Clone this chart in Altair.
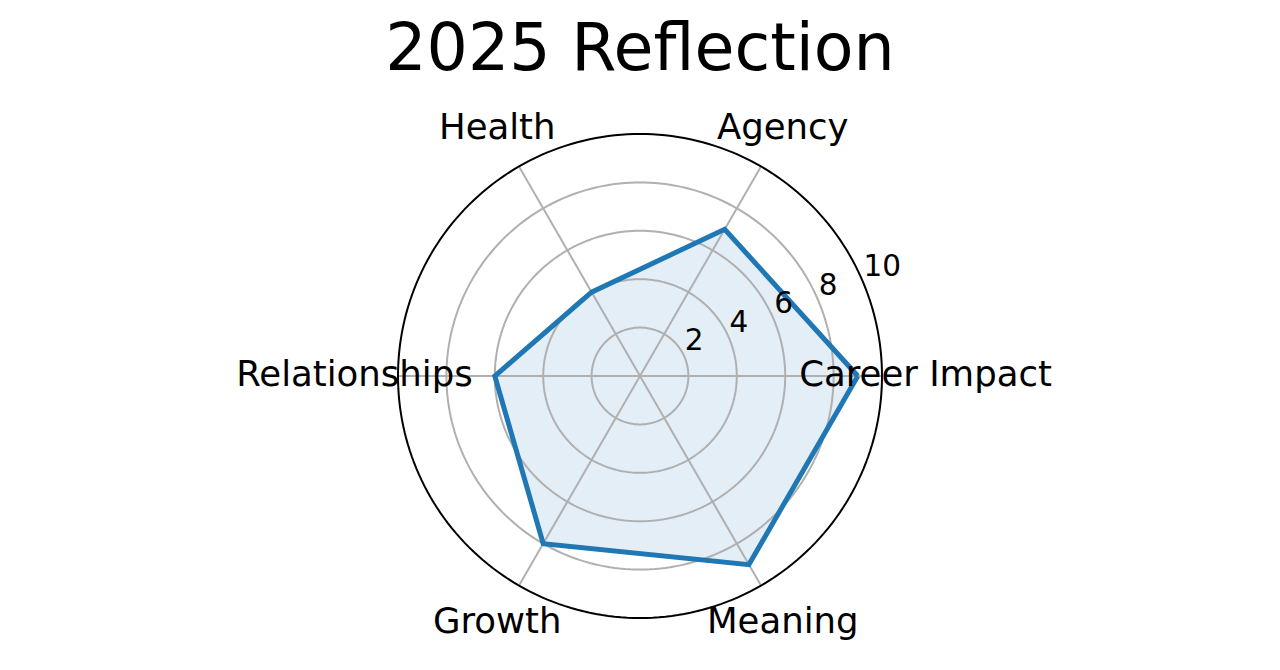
import numpy as np
import pandas as pd
import altair as alt

# Scores for each life area (0-10 scale)
categories = ["Career Impact", "Agency", "Health", "Relationships", "Growth", "Meaning"]
scores = [9, 7, 4, 6, 8, 9]
radial_ticks = [2, 4, 6, 8, 10]
title_text = "2025 Reflection"

R_MAX = 10
LABEL_R = 11.8
TICK_ANGLE = np.deg2rad(22.5)
SIZE = 484
FONT = "DejaVu Sans"

n = len(categories)
angles = np.arange(n) * 2 * np.pi / n

# Closed polygon for the scores
poly = pd.DataFrame({
    "category": categories + [categories[0]],
    "score": scores + [scores[0]],
    "angle": list(angles) + [angles[0]],
})
poly["order"] = range(len(poly))
poly["x"] = poly["score"] * np.cos(poly["angle"])
poly["y"] = poly["score"] * np.sin(poly["angle"])

# Spokes from the centre to the outer ring
spokes = pd.DataFrame({"angle": angles})
spokes["x"] = 0.0
spokes["y"] = 0.0
spokes["x2"] = R_MAX * np.cos(spokes["angle"])
spokes["y2"] = R_MAX * np.sin(spokes["angle"])

# Category labels just outside the outer ring
labels = pd.DataFrame({"category": categories, "angle": angles})
labels["x"] = LABEL_R * np.cos(labels["angle"])
labels["y"] = LABEL_R * np.sin(labels["angle"])

# Concentric rings for the radial ticks
t = np.linspace(0, 2 * np.pi, 241)
rings = pd.concat([
    pd.DataFrame({"r": r, "i": range(len(t)),
                  "x": r * np.cos(t), "y": r * np.sin(t)})
    for r in radial_ticks
])

tick_df = pd.DataFrame({"r": radial_ticks})
tick_df["label"] = tick_df["r"].astype(str)
tick_df["x"] = tick_df["r"] * np.cos(TICK_ANGLE)
tick_df["y"] = tick_df["r"] * np.sin(TICK_ANGLE)

xs = alt.Scale(domain=[-R_MAX, R_MAX], nice=False, zero=False)
ys = alt.Scale(domain=[-R_MAX, R_MAX], nice=False, zero=False)
X = alt.X("x:Q", scale=xs, axis=None)
Y = alt.Y("y:Q", scale=ys, axis=None)

fill = alt.Chart(poly).mark_line(
    fill="#1f77b4", fillOpacity=0.12, strokeOpacity=0
).encode(x=X, y=Y, order="order:Q")

grid_rings = alt.Chart(rings).transform_filter(
    alt.datum.r < R_MAX
).mark_line(color="#b0b0b0", strokeWidth=2).encode(
    x=X, y=Y, detail="r:N", order="i:Q"
)

spoke_lines = alt.Chart(spokes).mark_rule(color="#b0b0b0", strokeWidth=2).encode(
    x=X, y=Y, x2="x2:Q", y2="y2:Q"
)

outer = alt.Chart(rings).transform_filter(
    alt.datum.r == R_MAX
).mark_line(color="black", strokeWidth=2).encode(x=X, y=Y, order="i:Q")

outline = alt.Chart(poly).mark_line(
    color="#1f77b4", strokeWidth=5, strokeJoin="miter"
).encode(x=X, y=Y, order="order:Q")

cat_text = alt.Chart(labels).mark_text(
    font=FONT, fontSize=35.5, align="center", baseline="middle", dy=-1,
    color="black"
).encode(x=X, y=Y, text="category:N")

tick_text = alt.Chart(tick_df).mark_text(
    font=FONT, fontSize=29.5, align="left", baseline="alphabetic",
    dy=-7, color="black"
).encode(x=X, y=Y, text="label:N")

title = alt.Chart(pd.DataFrame({"t": [title_text]})).mark_text(
    font=FONT, fontSize=65, align="center", baseline="alphabetic", color="black"
).encode(x=alt.value(SIZE / 2), y=alt.value(-64), text="t:N")

chart = alt.layer(
    fill, grid_rings, spoke_lines, outline, outer, cat_text, tick_text, title
).properties(
    width=SIZE,
    height=SIZE,
    autosize=alt.AutoSizeParams(type="none"),
    padding={"left": 398, "top": 134, "right": 398, "bottom": 52},
    background="white",
).configure_view(stroke=None)

chart.save("out.html", embed_options={"renderer": "svg", "actions": False})
